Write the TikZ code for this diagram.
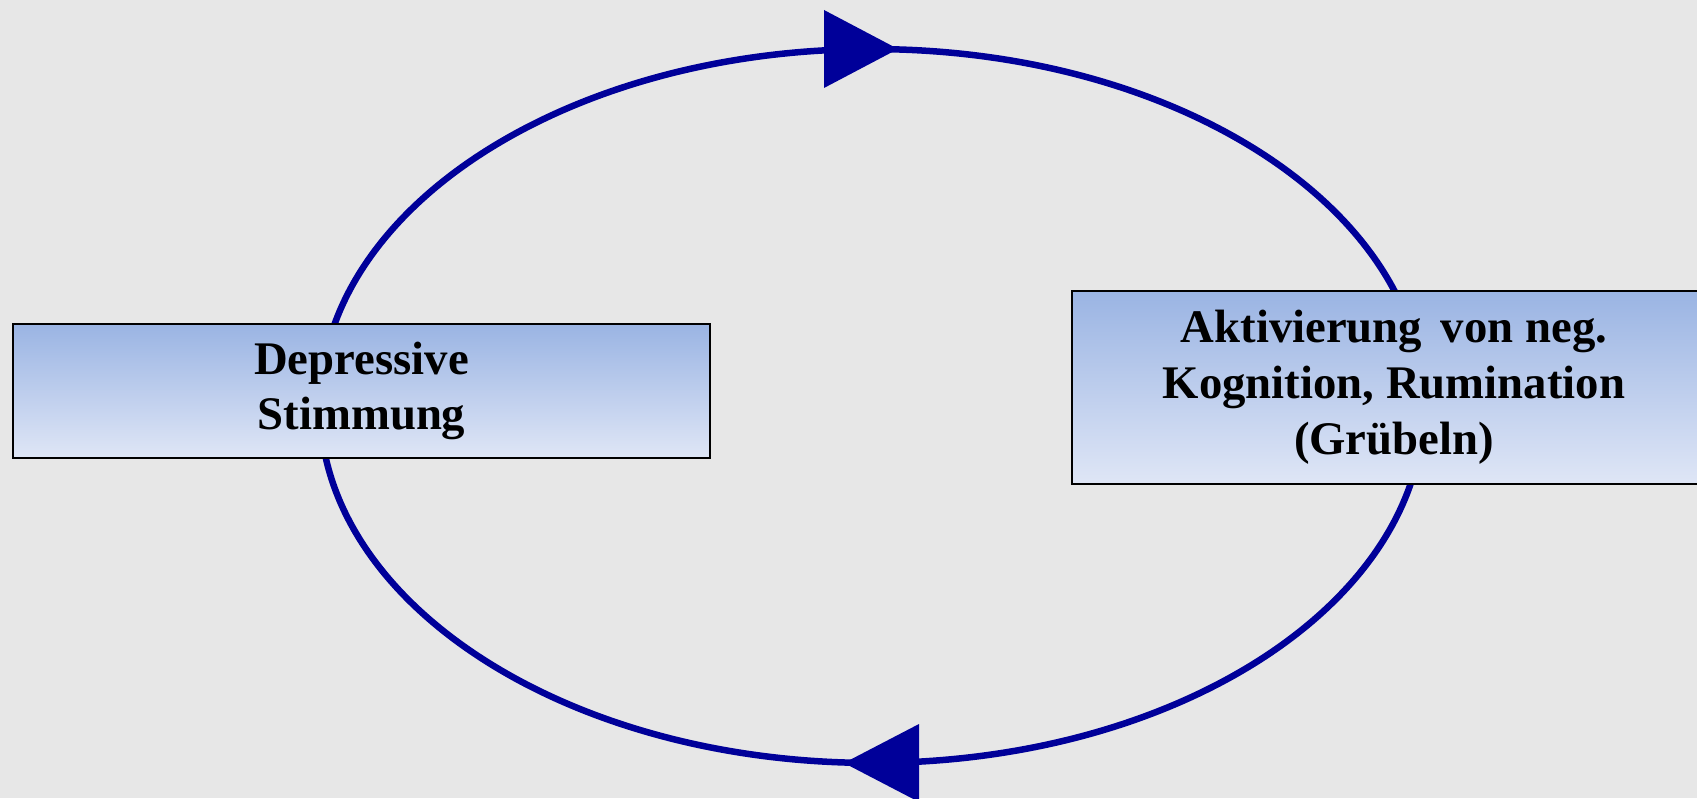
\documentclass[tikz,border=0pt]{standalone}
\usepackage{fontspec}
\setmainfont{Liberation Serif}
\definecolor{bgc}{RGB}{231,231,231}
\definecolor{loopc}{RGB}{0,0,153}
\definecolor{boxtop}{RGB}{154,180,227}
\definecolor{boxbot}{RGB}{223,230,246}
\tikzset{
  box/.style={draw=black, line width=1.4pt, top color=boxtop, bottom color=boxbot,
    inner sep=0pt, align=center, font=\fontsize{26.6}{31.8}\selectfont\bfseries},
  loopline/.style={draw=loopc, line width=3.7pt},
  tipfill/.style={fill=loopc},
}
\begin{document}
\begin{tikzpicture}[x=0.02cm,y=0.02cm]
\fill[bgc] (0,0) rectangle (1697,798);
\useasboundingbox (0,0) rectangle (1697,798);
% loop
\coordinate (L) at (320,392);
\coordinate (T) at (872,749);
\coordinate (B) at (872,35);
\draw[loopline] (L) arc[start angle=180, end angle=0, x radius=11.04cm, y radius=7.14cm]
  arc[start angle=0, end angle=-180, x radius=11.04cm, y radius=7.14cm];
\fill[tipfill, shift={(T)}] (-48,39) -- (26,0) -- (-48,-39) -- cycle;
\fill[tipfill, shift={(B)}] (47,39) -- (-28,0) -- (47,-39) -- cycle;
% boxes
\node[box, minimum width=13.94cm, minimum height=2.68cm] (dep) at (361.5,407)
  {Depressive\\Stimmung};
\node[box, minimum width=12.88cm, minimum height=3.86cm] (akt) at (1394,410.5)
  {Aktivierung\hspace{0.15em} von neg.\\Kognition, Rumination\\(Grübeln)};
\end{tikzpicture}
\end{document}
